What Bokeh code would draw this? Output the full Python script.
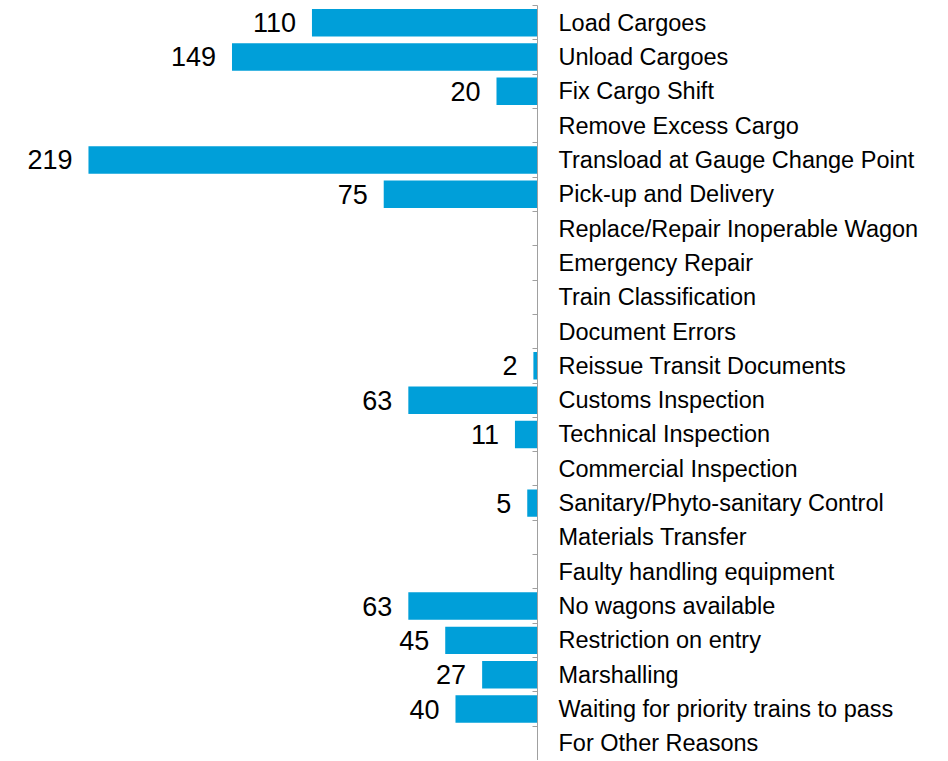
from bokeh.plotting import figure
from bokeh.models import Range1d, LinearAxis, FixedTicker, ColumnDataSource
from bokeh.core.properties import value
from bokeh.embed import file_html
from bokeh.resources import INLINE

categories = [
    "Load Cargoes", "Unload Cargoes", "Fix Cargo Shift", "Remove Excess Cargo",
    "Transload at Gauge Change Point", "Pick-up and Delivery",
    "Replace/Repair Inoperable Wagon", "Emergency Repair", "Train Classification",
    "Document Errors", "Reissue Transit Documents", "Customs Inspection",
    "Technical Inspection", "Commercial Inspection",
    "Sanitary/Phyto-sanitary Control", "Materials Transfer",
    "Faulty handling equipment", "No wagons available", "Restriction on entry",
    "Marshalling", "Waiting for priority trains to pass", "For Other Reasons",
]
counts = [110, 149, 20, 0, 219, 75, 0, 0, 0, 0, 2, 63, 11, 0, 5, 0, 0, 63, 45, 27, 40, 0]

n = len(categories)
rows = list(range(n))

bar_src = ColumnDataSource(dict(y=rows, v=counts))
lab_rows = [r for r, c in zip(rows, counts) if c > 0]
lab_vals = [c for c in counts if c > 0]
lab_src = ColumnDataSource(dict(y=lab_rows, v=lab_vals, t=[str(c) for c in lab_vals]))

p = figure(
    frame_width=529, frame_height=755,
    x_range=Range1d(258, 0), y_range=Range1d(n - 0.5, -0.5),
    x_axis_location=None, y_axis_location=None,
    toolbar_location=None, output_backend="svg",
    min_border_left=8, min_border_top=5, min_border_bottom=0, min_border_right=0,
)
p.outline_line_color = None
p.xgrid.visible = False
p.ygrid.visible = False
p.background_fill_color = "white"
p.border_fill_color = "white"

p.hbar(y="y", left=0, right="v", height=0.8, source=bar_src,
       fill_color="#009FD9", line_color=None)

p.text(x="v", y="y", text="t", source=lab_src, x_offset=-16,
       text_align="right", text_baseline="middle",
       text_font=value("Liberation Sans"), text_font_size="27px",
       text_color="#000000")

ax = LinearAxis(
    ticker=FixedTicker(ticks=rows, minor_ticks=[r - 0.5 for r in rows] + [n - 0.5]),
)
ax.major_label_overrides = {r: c for r, c in zip(rows, categories)}
ax.axis_line_color = "#A0A0A0"
ax.axis_line_width = 1
ax.major_tick_line_color = None
ax.major_tick_in = 0
ax.major_tick_out = 0
ax.minor_tick_line_color = "#A0A0A0"
ax.minor_tick_line_width = 1
ax.minor_tick_in = 5
ax.minor_tick_out = 0
ax.major_label_standoff = 21
ax.major_label_text_font = "Liberation Sans"
ax.major_label_text_font_size = "23.5px"
ax.major_label_text_color = "#000000"
p.add_layout(ax, "right")

open("out.html", "w").write(file_html(p, INLINE))
